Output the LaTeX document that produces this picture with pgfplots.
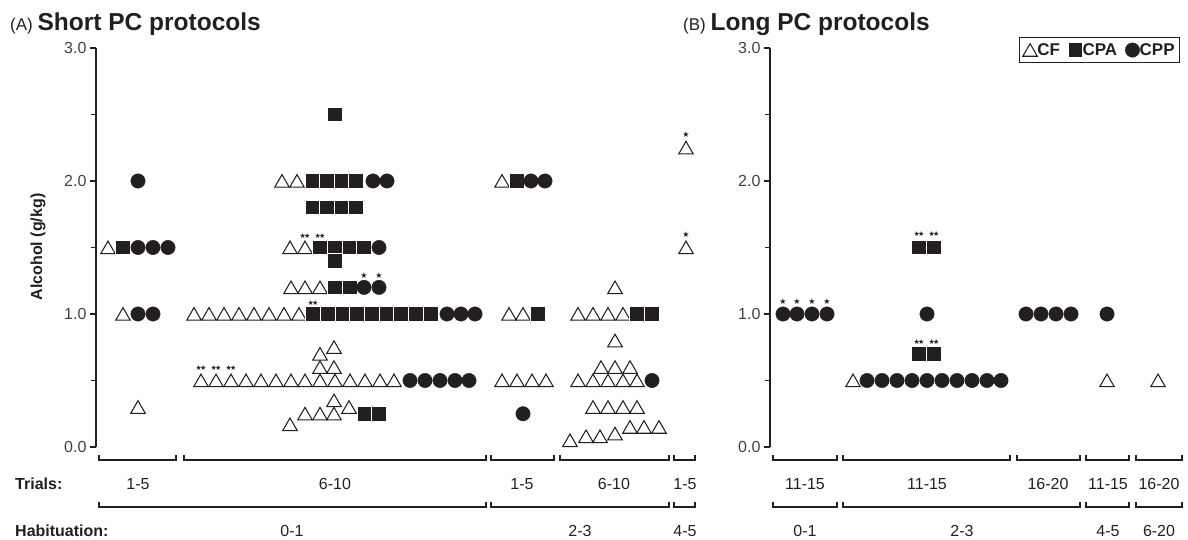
\documentclass[border=0pt]{standalone}
\usepackage{pgfplots}
\pgfplotsset{compat=1.18}
\usepackage{fontspec}
\setmainfont{Liberation Sans}
\newfontfamily\symfont{DejaVu Sans}
\definecolor{ink}{HTML}{231F20}
\newcommand{\fs}[1]{\fontsize{#1}{#1}\selectfont}

\pgfplotsset{
  panel/.style={
    scale only axis, height=399pt,
    ymin=0, ymax=3, enlargelimits=false, clip=false,
    axis x line=none, axis y line=left,
    axis line style={-, ink, line width=1.3pt},
    every outer y axis line/.append style={-},
    every inner y axis line/.append style={-},
    xtick=\empty,
    ytick={0,1,2,3}, minor ytick={0.5,1.5,2.5},
    yticklabels={0.0,1.0,2.0,3.0},
    tick align=outside, major tick length=6pt, minor tick length=5pt,
    every tick/.style={ink, line width=1.1pt},
    yticklabel style={font=\fs{16}, text=ink!85},
  },
  cf/.style={only marks, mark=triangle, mark size=8.4pt, mark options={draw=ink, fill=white, line width=1.05pt, yshift=-2pt}},
  cpa/.style={only marks, mark=square*, mark size=7.3pt, mark options={draw=white, fill=ink, line width=1pt}},
  cpp/.style={only marks, mark=*, mark size=7.2pt, mark options={draw=ink, fill=ink, line width=0.4pt}},
  st1/.style={only marks, mark=text, text mark={\symfont\fs{8}★}, text mark as node=true, text mark style={text=ink, inner sep=0pt}},
  st2/.style={only marks, mark=text, text mark={\symfont\fs{7}★\kern-1.6pt★}, text mark as node=true, text mark style={text=ink, inner sep=0pt}},
}

\begin{document}
\begin{tikzpicture}
% ---------- (A) Short PC protocols ----------
\begin{axis}[panel, width=601pt, xmin=96, xmax=697, at={(0pt,0pt)}, anchor=south west]
\addplot[cf] coordinates {
(108,1.5) (123,1.0) (138,0.3)
(282,2.0) (297,2.0)
(290,1.5) (305,1.5)
(291,1.2) (305,1.2) (320,1.2)
(194,1) (209,1) (224,1) (239,1) (254,1) (269,1) (284,1) (299,1)
(334,0.75) (320,0.7) (320,0.6) (334,0.6)
(201,0.5) (216,0.5) (231,0.5) (246,0.5) (261,0.5) (276,0.5) (291,0.5) (305,0.5) (320,0.5) (335,0.5) (350,0.5) (365,0.5) (380,0.5) (394,0.5)
(334,0.35) (349,0.3) (305,0.25) (320,0.25) (334,0.25) (290,0.17)
(502,2.0) (509,1) (523,1) (502,0.5) (517,0.5) (532,0.5) (546,0.5)
(615,1.2) (578,1) (593,1) (608,1) (623,1) (615,0.8) (601,0.6) (615,0.6) (630,0.6)
(578,0.5) (593,0.5) (608,0.5) (623,0.5) (637,0.5)
(593,0.3) (608,0.3) (623,0.3) (637,0.3)
(570,0.05) (586,0.08) (600,0.08) (615,0.1) (630,0.15) (644,0.15) (659,0.15)
(686,2.25) (686,1.5)
};
\addplot[cpa] coordinates {
(123,1.5)
(335,2.5)
(313,2) (327,2) (342,2) (356,2)
(313,1.8) (327,1.8) (342,1.8) (356,1.8)
(320,1.5) (335,1.5) (350,1.5) (364,1.5)
(335,1.4)
(335,1.2) (350,1.2)
(313,1) (328,1) (343,1) (357,1) (372,1) (387,1) (401,1) (416,1) (431,1)
(365,0.25) (379,0.25)
(517,2) (538,1)
(637,1) (652,1)
};
\addplot[cpp] coordinates {
(138,2) (138,1.5) (153,1.5) (168,1.5) (138,1) (153,1)
(373,2) (387,2) (379,1.5) (364,1.2) (379,1.2) (447,1) (461,1) (475,1)
(410,0.5) (425,0.5) (440,0.5) (455,0.5) (469,0.5)
(531,2) (545,2) (523,0.25)
(652,0.5)
};
\addplot[st1] coordinates {(364,1.29) (379,1.29) (686,2.345) (686,1.595)};
\addplot[st2] coordinates {(305,1.59) (320,1.59) (313,1.085) (201,0.595) (216,0.595) (231,0.595)};
\end{axis}

% ---------- (B) Long PC protocols ----------
\begin{axis}[panel, width=416pt, xmin=770, xmax=1186, at={(674pt,0pt)}, anchor=south west,
  legend columns=-1,
  legend style={at={(0.9856,1.0276)}, anchor=north east, draw=ink, line width=0.8pt,
    font=\bfseries\fs{17}, text=ink, inner xsep=3pt, inner ysep=4pt,
    /tikz/every odd column/.append style={column sep=-2pt},
    /tikz/every even column/.append style={column sep=6pt}},
  legend cell align=left]
\addplot[cf] coordinates {(853,0.5) (1107,0.5) (1158,0.5)};
\addlegendentry{CF}
\addplot[cpa] coordinates {(919,1.5) (934,1.5) (919,0.7) (934,0.7)};
\addlegendentry{CPA}
\addplot[cpp] coordinates {
(783,1) (797,1) (812,1) (827,1) (927,1) (1026,1) (1041,1) (1056,1) (1071,1) (1107,1)
(867,0.5) (882,0.5) (897,0.5) (912,0.5) (927,0.5) (942,0.5) (957,0.5) (972,0.5) (987,0.5) (1001,0.5)
};
\addlegendentry{CPP}
\addplot[st1, forget plot] coordinates {(783,1.09) (797,1.09) (812,1.09) (827,1.09)};
\addplot[st2, forget plot] coordinates {(919,1.6) (934,1.6) (919,0.79) (934,0.79)};
\end{axis}

% ---------- annotations in image pixel coordinates ----------
\begin{scope}[x=1pt, y=-1pt, shift={(-96pt,447pt)}]
  \node[anchor=base west, text=ink, inner sep=0pt] at (10,31) {\fs{17}(A) {\fs{24.5}\bfseries Short PC protocols}};
  \node[anchor=base west, text=ink, inner sep=0pt] at (683,31) {\fs{17}(B) {\fs{24.5}\bfseries Long PC protocols}};
  \node[rotate=90, text=ink, font=\bfseries\fs{16}] at (38,247) {Alcohol (g/kg)};
  \begin{scope}[draw=ink, line width=1.3pt]
    % trials brackets
    \foreach \a/\b in {99/176, 184/486, 491/554, 560/669, 674/695, 773/837, 843/1010, 1017/1080, 1086/1129, 1136/1182}
      \draw (\a,455) -- (\a,460) -- (\b,460) -- (\b,455);
    % habituation brackets
    \foreach \a/\b in {99/486, 491/669, 674/695, 773/837, 843/1080, 1086/1129, 1136/1182}
      \draw (\a,502) -- (\a,507) -- (\b,507) -- (\b,502);
  \end{scope}
  \begin{scope}[every node/.style={anchor=base, text=ink, inner sep=0pt, font=\fs{16}}]
    \foreach \x/\t in {138/1-5, 335/6-10, 522/1-5, 614/6-10, 685/1-5, 805/11-15, 927/11-15, 1048/16-20, 1108/11-15, 1159/16-20}
      \node at (\x,490) {\t};
    \foreach \x/\t in {292/0-1, 580/2-3, 685/4-5, 805/0-1, 962/2-3, 1108/4-5, 1159/6-20}
      \node at (\x,537) {\t};
  \end{scope}
  \node[anchor=base west, text=ink, inner sep=0pt, font=\bfseries\fs{16}] at (15,490) {Trials:};
  \node[anchor=base west, text=ink, inner sep=0pt, font=\bfseries\fs{16}] at (15,537) {Habituation:};
  \pgfresetboundingbox
  \path[use as bounding box] (0,0) rectangle (1188,540);
\end{scope}
\end{tikzpicture}
\end{document}
